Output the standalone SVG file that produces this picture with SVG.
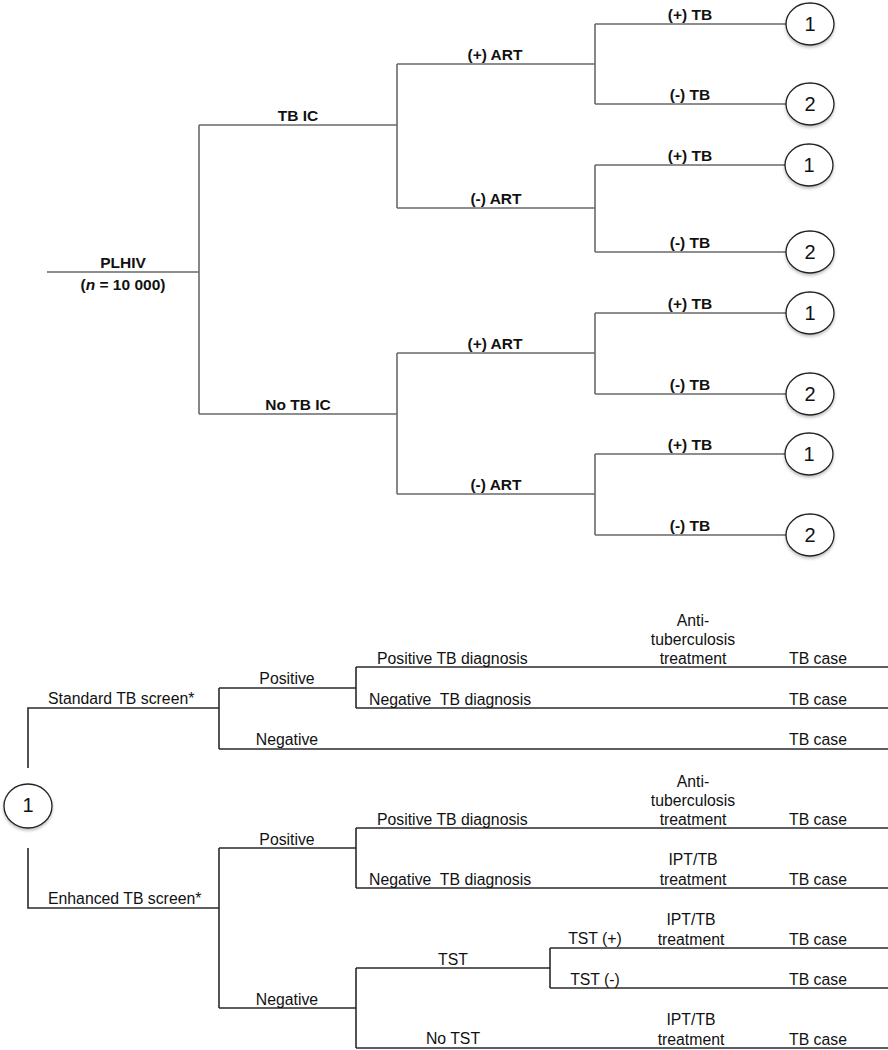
<svg xmlns="http://www.w3.org/2000/svg" width="888" height="1050" viewBox="0 0 888 1050">
<defs>
<style>
.g{fill:none;stroke:#6a6a6a;stroke-width:1.6}
.k{fill:none;stroke:#2a2a2a;stroke-width:1.6}
.bl{font-family:"Liberation Sans",Arial,sans-serif;font-weight:bold;font-size:15.5px;fill:#111;text-anchor:middle}
.rl{font-family:"Liberation Sans",Arial,sans-serif;font-size:15.8px;fill:#111}
.c{text-anchor:middle}
.node ellipse{fill:#fff;stroke:#222;stroke-width:1.3;filter:url(#sh)}
.node text{font-family:"Liberation Sans",Arial,sans-serif;font-size:20px;fill:#111;text-anchor:middle}
</style>
<filter id="sh" x="-30%" y="-30%" width="160%" height="170%">
<feDropShadow dx="0" dy="2" stdDeviation="1.5" flood-color="#000" flood-opacity="0.25"/>
</filter>
</defs>
<rect width="888" height="1050" fill="#fff"/>
<g id="connectors">
<path class="g" d="M47 272H199M199 125V414M199 125H397M199 414H397M397 64V208M397 64H595M397 208H595M397 353V494M397 353H595M397 494H595M595 24V104M595 24H787M595 104H787M595 165V252M595 165H786M595 252H787M595 313V394M595 313H787M595 394H787M595 454V535M595 454H786M595 535H787"/>
<path class="k" d="M28 768V708H219M219 688V749M219 688H356M356 667V708M356 667H888M356 708H888M219 749H888M28 848V908H219M219 848V1008M219 848H356M356 828V888M356 828H888M356 888H888M219 1008H356M356 968V1048M356 968H550M550 948V988M550 948H888M550 988H888M356 1048H888"/>
</g>
<g id="labels-top">
<text class="bl" x="123" y="268">PLHIV</text>
<text class="bl" x="123" y="290">(<tspan font-style="italic">n</tspan> = 10 000)</text>
<text class="bl" x="298" y="121">TB IC</text>
<text class="bl" x="298" y="410">No TB IC</text>
<text class="bl" x="495" y="60">(+) ART</text>
<text class="bl" x="496" y="204">(-) ART</text>
<text class="bl" x="495" y="349">(+) ART</text>
<text class="bl" x="496" y="490">(-) ART</text>
<text class="bl" x="690" y="20">(+) TB</text>
<text class="bl" x="690" y="100">(-) TB</text>
<text class="bl" x="690" y="161">(+) TB</text>
<text class="bl" x="690" y="248">(-) TB</text>
<text class="bl" x="690" y="309">(+) TB</text>
<text class="bl" x="690" y="390">(-) TB</text>
<text class="bl" x="690" y="450">(+) TB</text>
<text class="bl" x="690" y="531">(-) TB</text>
</g>
<g id="n1a" class="node"><ellipse cx="810" cy="24" rx="24" ry="21"/><text x="810" y="31">1</text></g>
<g id="n2a" class="node"><ellipse cx="810" cy="104" rx="24" ry="21"/><text x="810" y="111">2</text></g>
<g id="n1b" class="node"><ellipse cx="809" cy="165" rx="24" ry="21"/><text x="809" y="172">1</text></g>
<g id="n2b" class="node"><ellipse cx="810" cy="252" rx="24" ry="21"/><text x="810" y="259">2</text></g>
<g id="n1c" class="node"><ellipse cx="810" cy="313" rx="24" ry="21"/><text x="810" y="320">1</text></g>
<g id="n2c" class="node"><ellipse cx="810" cy="394" rx="24" ry="21"/><text x="810" y="401">2</text></g>
<g id="n1d" class="node"><ellipse cx="809" cy="454" rx="24" ry="21"/><text x="809" y="461">1</text></g>
<g id="n2d" class="node"><ellipse cx="810" cy="535" rx="24" ry="21"/><text x="810" y="542">2</text></g>
<g id="n1root" class="node"><ellipse cx="28" cy="806" rx="24" ry="22"/><text x="28" y="812">1</text></g>
<g id="labels-bottom">
<text class="rl" x="48" y="704">Standard TB screen*</text>
<text class="rl c" x="287" y="684">Positive</text>
<text class="rl c" x="287" y="745">Negative</text>
<text class="rl" x="377" y="664">Positive TB diagnosis</text>
<text class="rl" x="369" y="705" xml:space="preserve">Negative  TB diagnosis</text>
<text class="rl c" x="693" y="626">Anti-</text>
<text class="rl c" x="693" y="645">tuberculosis</text>
<text class="rl c" x="693" y="664">treatment</text>
<text class="rl c" x="818" y="664">TB case</text>
<text class="rl c" x="818" y="705">TB case</text>
<text class="rl c" x="818" y="745">TB case</text>
<text class="rl" x="48" y="904">Enhanced TB screen*</text>
<text class="rl c" x="287" y="845">Positive</text>
<text class="rl c" x="287" y="1005">Negative</text>
<text class="rl" x="377" y="825">Positive TB diagnosis</text>
<text class="rl" x="369" y="885" xml:space="preserve">Negative  TB diagnosis</text>
<text class="rl c" x="693" y="787">Anti-</text>
<text class="rl c" x="693" y="806">tuberculosis</text>
<text class="rl c" x="693" y="825">treatment</text>
<text class="rl c" x="818" y="825">TB case</text>
<text class="rl c" x="693" y="865">IPT/TB</text>
<text class="rl c" x="693" y="885">treatment</text>
<text class="rl c" x="818" y="885">TB case</text>
<text class="rl c" x="453" y="965">TST</text>
<text class="rl c" x="595" y="944">TST (+)</text>
<text class="rl c" x="595" y="985">TST (-)</text>
<text class="rl c" x="691" y="925">IPT/TB</text>
<text class="rl c" x="691" y="945">treatment</text>
<text class="rl c" x="818" y="945">TB case</text>
<text class="rl c" x="818" y="985">TB case</text>
<text class="rl c" x="453" y="1044">No TST</text>
<text class="rl c" x="691" y="1025">IPT/TB</text>
<text class="rl c" x="691" y="1045">treatment</text>
<text class="rl c" x="818" y="1045">TB case</text>
</g>
</svg>
